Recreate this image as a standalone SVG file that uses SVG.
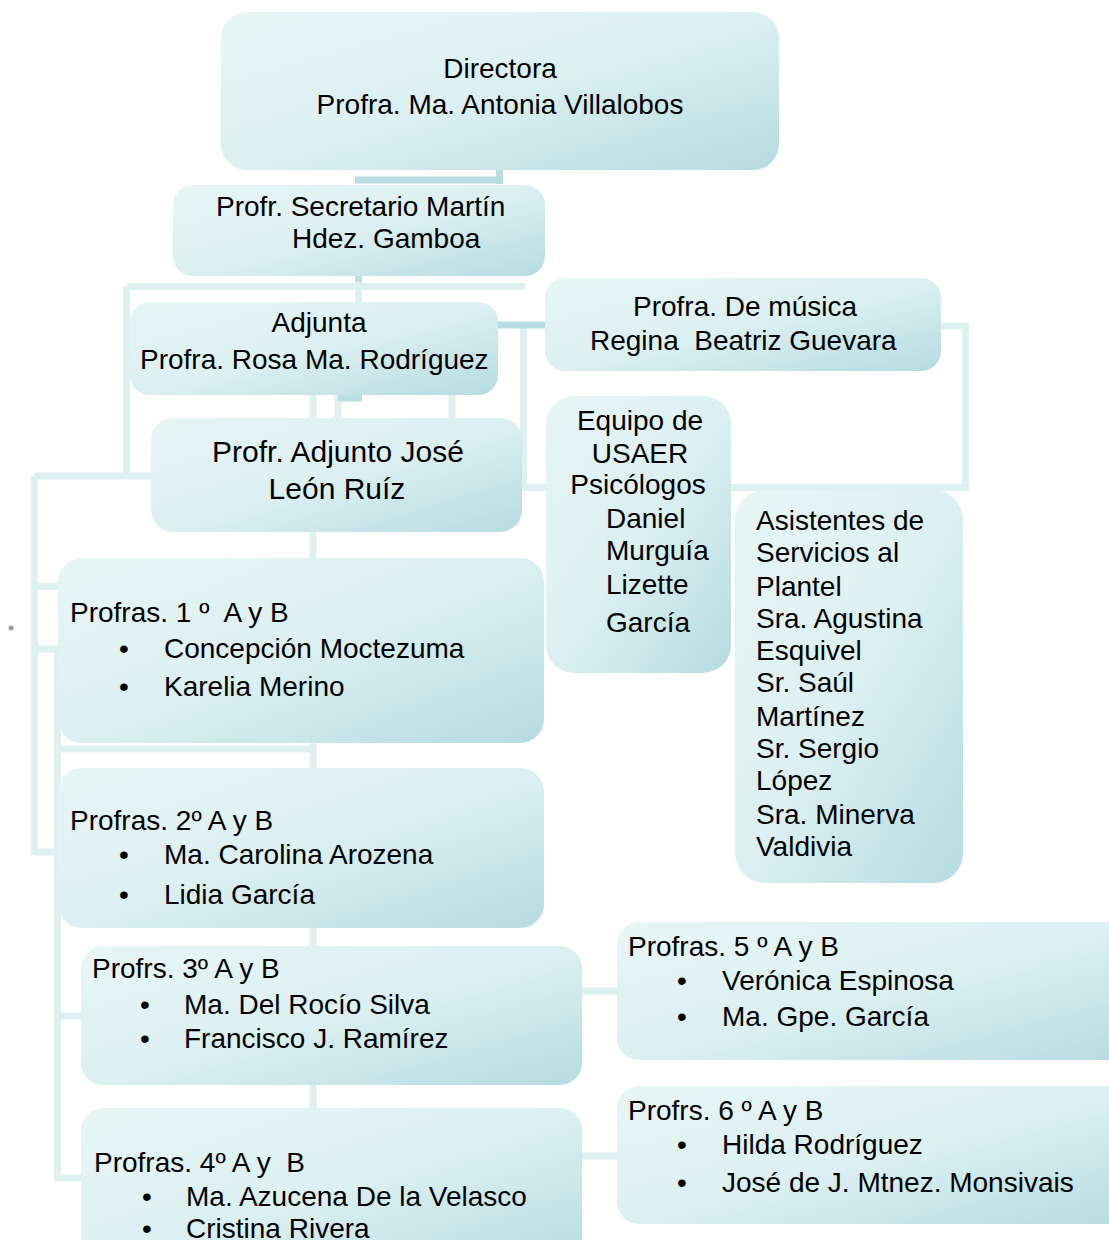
<svg xmlns="http://www.w3.org/2000/svg" width="1109" height="1240" viewBox="0 0 1109 1240">
<defs>
<linearGradient id="g" x1="0" y1="0" x2="1" y2="1">
<stop offset="0" stop-color="#e8f5f5"/>
<stop offset="0.5" stop-color="#dcf0f1"/>
<stop offset="1" stop-color="#b5dbe0"/>
</linearGradient>
<style>
.box{fill:url(#g)}
.t{font-family:"Liberation Sans",Arial,sans-serif;font-size:28px;fill:#000;white-space:pre}
.c{stroke:#dff0f1;stroke-width:7;fill:none}
.d{stroke:#b9dee2;stroke-width:7;fill:none}
.m{text-anchor:middle}
</style>
</defs>
<rect width="1109" height="1240" fill="#fff"/>
<g id="connectors">
<path class="c" d="M126.5 286.5 H525 M126.5 286.5 V479 M34.5 476 H151 M34.5 476 V855 M34.5 586.5 H60 M34.5 852 H60 M34.5 649 H57.5 M57.5 649 V1181 M57.5 749 H313 M57.5 1016 H82 M57.5 1178 H82 M313 395 V1110 M338 395 V420 M452 395 V420 M523.5 325 V490 M522 487.5 H546 M938 326 H965.5 V487.5 H731 M582 991 H617 M582 1156 H617 M358.5 276 V302"/>
<path class="d" d="M355 180 H499.5 M499.5 170 V184 M498 325 H546 M358.5 276 V282 M338 398 H362" />
<circle cx="11" cy="628" r="2.5" fill="#9a9a9a"/>
</g>
<g id="directora">
<rect class="box" x="221" y="12" width="558" height="158" rx="26"/>
<text class="t m" x="500" y="78">Directora</text>
<text class="t m" x="500" y="114">Profra. Ma. Antonia Villalobos</text>
</g>
<g id="secretario">
<rect class="box" x="173" y="185" width="372" height="91" rx="20"/>
<text class="t" x="216" y="216">Profr. Secretario Martín</text>
<text class="t" x="292" y="248">Hdez. Gamboa</text>
</g>
<g id="adjunta">
<rect class="box" x="130" y="302" width="368" height="93" rx="20"/>
<text class="t m" x="319" y="332">Adjunta</text>
<text class="t" x="140" y="369">Profra. Rosa Ma. Rodríguez</text>
</g>
<g id="musica">
<rect class="box" x="545" y="278" width="396" height="93" rx="20"/>
<text class="t m" x="745" y="316">Profra. De música</text>
<text class="t" x="590" y="350" xml:space="preserve">Regina  Beatriz Guevara</text>
</g>
<g id="adjunto">
<rect class="box" x="151" y="418" width="371" height="114" rx="22"/>
<text class="t m" x="338" y="462" style="font-size:30px">Profr. Adjunto José</text>
<text class="t m" x="337" y="499" style="font-size:30px">León Ruíz</text>
</g>
<g id="usaer">
<rect class="box" x="546" y="396" width="185" height="277" rx="28"/>
<text class="t m" x="640" y="430">Equipo de</text>
<text class="t m" x="640" y="463">USAER</text>
<text class="t m" x="638" y="494">Psicólogos</text>
<text class="t" x="606" y="528">Daniel</text>
<text class="t" x="606" y="560">Murguía</text>
<text class="t" x="606" y="594">Lizette</text>
<text class="t" x="606" y="632">García</text>
</g>
<g id="asistentes">
<rect class="box" x="735" y="490" width="228" height="393" rx="30"/>
<text class="t" x="756" y="530">Asistentes de</text>
<text class="t" x="756" y="562">Servicios al</text>
<text class="t" x="756" y="596">Plantel</text>
<text class="t" x="756" y="628">Sra. Agustina</text>
<text class="t" x="756" y="660">Esquivel</text>
<text class="t" x="756" y="692">Sr. Saúl</text>
<text class="t" x="756" y="726">Martínez</text>
<text class="t" x="756" y="758">Sr. Sergio</text>
<text class="t" x="756" y="790">López</text>
<text class="t" x="756" y="824">Sra. Minerva</text>
<text class="t" x="756" y="856">Valdivia</text>
</g>
<g id="primero">
<rect class="box" x="58" y="558" width="486" height="185" rx="24"/>
<text class="t" x="70" y="622" xml:space="preserve">Profras. 1 º  A y B</text>
<text class="t m" x="124" y="658">•</text>
<text class="t" x="164" y="658">Concepción Moctezuma</text>
<text class="t m" x="124" y="696">•</text>
<text class="t" x="164" y="696">Karelia Merino</text>
</g>
<g id="segundo">
<rect class="box" x="58" y="768" width="486" height="160" rx="24"/>
<text class="t" x="70" y="830">Profras. 2º A y B</text>
<text class="t m" x="124" y="864">•</text>
<text class="t" x="164" y="864">Ma. Carolina Arozena</text>
<text class="t m" x="124" y="904">•</text>
<text class="t" x="164" y="904">Lidia García</text>
</g>
<g id="tercero">
<rect class="box" x="81" y="946" width="501" height="139" rx="22"/>
<text class="t" x="92" y="978">Profrs. 3º A y B</text>
<text class="t m" x="145" y="1014">•</text>
<text class="t" x="184" y="1014">Ma. Del Rocío Silva</text>
<text class="t m" x="145" y="1048">•</text>
<text class="t" x="184" y="1048">Francisco J. Ramírez</text>
</g>
<g id="cuarto">
<rect class="box" x="81" y="1108" width="501" height="160" rx="22"/>
<text class="t" x="94" y="1172" xml:space="preserve">Profras. 4º A y  B</text>
<text class="t m" x="147" y="1206">•</text>
<text class="t" x="186" y="1206">Ma. Azucena De la Velasco</text>
<text class="t m" x="147" y="1238">•</text>
<text class="t" x="186" y="1238">Cristina Rivera</text>
</g>
<g id="quinto">
<rect class="box" x="617" y="922" width="520" height="138" rx="22"/>
<text class="t" x="628" y="956">Profras. 5 º A y B</text>
<text class="t m" x="682" y="990">•</text>
<text class="t" x="722" y="990">Verónica Espinosa</text>
<text class="t m" x="682" y="1026">•</text>
<text class="t" x="722" y="1026">Ma. Gpe. García</text>
</g>
<g id="sexto">
<rect class="box" x="617" y="1086" width="520" height="138" rx="22"/>
<text class="t" x="628" y="1120">Profrs. 6 º A y B</text>
<text class="t m" x="682" y="1154">•</text>
<text class="t" x="722" y="1154">Hilda Rodríguez</text>
<text class="t m" x="682" y="1192">•</text>
<text class="t" x="722" y="1192">José de J. Mtnez. Monsivais</text>
</g>
</svg>
